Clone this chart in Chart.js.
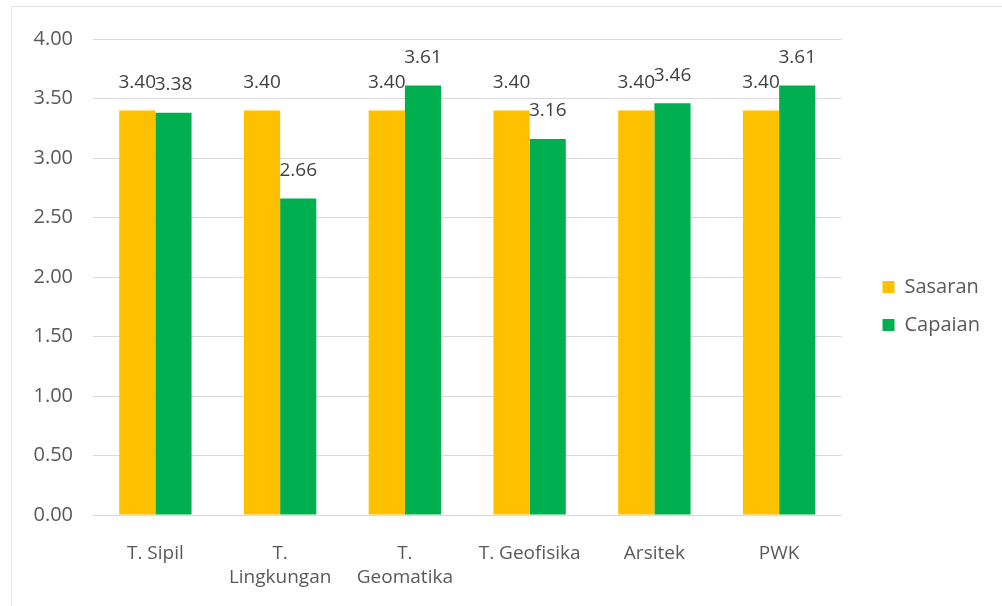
<!DOCTYPE html>
<html>
<head>
<meta charset="utf-8">
<script src="https://cdn.jsdelivr.net/npm/chart.js@4"></script>
<style>
  html, body { margin: 0; padding: 0; background: #fff; }
  #wrap { position: absolute; left: 11px; top: 6px; width: 990px; height: 599px; border: 1px solid #e3e3e3; border-right: none; border-bottom: none; }
  canvas { display: block; }
</style>
</head>
<body>
<div id="wrap"><canvas id="myChart" width="990" height="599"></canvas></div>
<script>
'use strict';
  // kategori (program studi)
  const labels = [
    'T. Sipil',
    ['T.', 'Lingkungan'],
    ['T.', 'Geomatika'],
    'T. Geofisika',
    'Arsitek',
    'PWK',
  ];
  // nilai sasaran dan capaian
  const sasaran = [3.40, 3.40, 3.40, 3.40, 3.40, 3.40];
  const capaian = [3.38, 2.66, 3.61, 3.16, 3.46, 3.61];
  // label sumbu y
  const yTicks = ['0.00', '0.50', '1.00', '1.50', '2.00', '2.50', '3.00', '3.50', '4.00'];

  const textColor = '#595959';
  const fontFamily = '"Open Sans", "DejaVu Sans", sans-serif';

  // tulis nilai di atas tiap batang
  const valueLabels = {
    id: 'valueLabels',
    afterDatasetsDraw(chart) {
      const ctx = chart.ctx;
      ctx.save();
      ctx.font = '19px ' + fontFamily;
      ctx.fillStyle = '#404040';
      ctx.textAlign = 'center';
      ctx.textBaseline = 'middle';
      chart.data.datasets.forEach((ds, i) => {
        chart.getDatasetMeta(i).data.forEach((bar, j) => {
          ctx.fillText(ds.data[j].toFixed(2), bar.x, bar.y - 28);
        });
      });
      ctx.restore();
    }
  };

  const data = {
    labels: labels,
    datasets: [{
      label: 'Sasaran',
      backgroundColor: '#FFC000',
      data: sasaran,
    }, {
      label: 'Capaian',
      backgroundColor: '#00B050',
      data: capaian,
    }]
  };

  const config = {
    type: 'bar',
    data: data,
    options: {
      responsive: false,
      animation: false,
      layout: { padding: { left: 21, top: 18, right: 12, bottom: 19 } },
      datasets: { bar: { categoryPercentage: 0.58, barPercentage: 1.0 } },
      scales: {
        x: {
          grid: { display: false, drawTicks: false },
          border: { color: '#d9d9d9' },
          ticks: { color: textColor, font: { family: fontFamily, size: 19, lineHeight: 1.3 }, padding: 26, maxRotation: 0 },
          afterFit: (s) => { s.height = 72; },
        },
        y: {
          min: 0,
          max: 4,
          grid: { color: '#d9d9d9', drawTicks: false },
          border: { display: false },
          ticks: {
            stepSize: 0.5,
            padding: 20,
            color: textColor,
            font: { family: fontFamily, size: 20 },
            callback: (v, i) => yTicks[i],
          },
          afterFit: (s) => { s.width = 60; },
        },
        gap: {
          position: 'right',
          display: true,
          grid: { display: false },
          border: { display: false },
          ticks: { display: false },
          afterFit: (s) => { s.width = 23; },
        },
      },
      plugins: {
        legend: {
          position: 'right',
          labels: {
            color: textColor,
            font: { family: fontFamily, size: 20 },
            boxWidth: 12,
            boxHeight: 12,
            padding: 18,
          },
        },
        tooltip: { enabled: false },
      },
    },
    plugins: [valueLabels],
  };
  const myChart = new Chart(
    document.getElementById('myChart'),
    config
  );
</script>
</body>
</html>
